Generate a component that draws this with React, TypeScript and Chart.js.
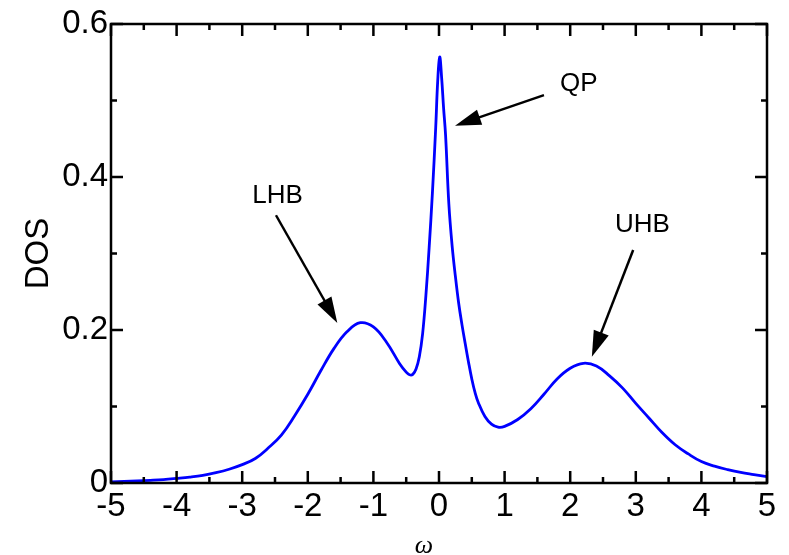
import React, { useEffect, useRef } from "react";
import { Chart, registerables } from "chart.js";

Chart.register(...registerables);

// ---- data ----
const omega = [
  -5.0, -4.8, -4.6, -4.4, -4.2, -4.0, -3.8, -3.6, -3.4, -3.2, -3.0, -2.8, -2.6, -2.4, -2.2, -2.0,
  -1.8, -1.6, -1.4, -1.2, -1.0, -0.8, -0.6, -0.5, -0.45, -0.4, -0.35, -0.3, -0.25, -0.2, -0.15,
  -0.1, -0.05, -0.02, 0.01, 0.04, 0.07, 0.1, 0.15, 0.2, 0.25, 0.3, 0.35, 0.4, 0.45, 0.5, 0.55, 0.6,
  0.7, 0.8, 0.9, 1.0, 1.2, 1.4, 1.6, 1.8, 2.0, 2.2, 2.4, 2.6, 2.8, 3.0, 3.2, 3.4, 3.6, 3.8,
  4.0, 4.2, 4.4, 4.6, 4.8, 5.0,
];
const dos = [
  0.0015, 0.002, 0.0027, 0.0035, 0.0045, 0.006, 0.0077, 0.01, 0.0135, 0.018, 0.024, 0.032, 0.046, 0.063, 0.088, 0.116,
  0.147, 0.176, 0.198, 0.2095, 0.204, 0.184, 0.156, 0.145, 0.1415, 0.142, 0.149, 0.165, 0.195, 0.245, 0.308,
  0.38, 0.465, 0.525, 0.557, 0.53, 0.49, 0.455, 0.365, 0.31, 0.27, 0.235, 0.207, 0.182, 0.158, 0.136, 0.118, 0.105,
  0.087, 0.077, 0.073, 0.074, 0.083, 0.097, 0.116, 0.136, 0.15, 0.1565, 0.153, 0.14, 0.124, 0.104, 0.085, 0.066, 0.05, 0.038,
  0.028, 0.022, 0.0175, 0.0138, 0.011, 0.0083,
];

const xRange = [-5, 5];
const yRange = [0, 0.6];
const xStep = 1;
const yStep = 0.2;

const xTitle = "ω";
const yTitle = "DOS";

// annotations: label, label position (data), arrow start (data), arrow tip (data)
const annLabels = ["LHB", "QP", "UHB"];
const annLabelX = [-2.46, 2.13, 3.1];
const annLabelY = [0.375, 0.522, 0.337];
const annFromX = [-2.485, 1.6, 2.96];
const annFromY = [0.35, 0.507, 0.3046];
const annToX = [-1.55, 0.244, 2.33];
const annToY = [0.209, 0.467, 0.165];

const SANS = "'Liberation Sans', Arial, Helvetica, sans-serif";

const framePlugin = {
  id: "frameTicks",
  afterDatasetsDraw(chart: any) {
    const { ctx, chartArea: a, scales } = chart;
    const xs = scales.x;
    const ys = scales.y;
    ctx.save();
    ctx.strokeStyle = "#000";
    ctx.lineWidth = 2.5;
    ctx.lineCap = "butt";

    const major = 12;
    const minor = 6;
    ctx.beginPath();
    const xv = xs.ticks.map((t: any) => t.value);
    xv.forEach((v: number, i: number) => {
      const px = xs.getPixelForValue(v);
      ctx.moveTo(px, a.bottom); ctx.lineTo(px, a.bottom - major);
      ctx.moveTo(px, a.top); ctx.lineTo(px, a.top + major);
      if (i < xv.length - 1) {
        const m = xs.getPixelForValue((v + xv[i + 1]) / 2);
        ctx.moveTo(m, a.bottom); ctx.lineTo(m, a.bottom - minor);
        ctx.moveTo(m, a.top); ctx.lineTo(m, a.top + minor);
      }
    });
    const yv = ys.ticks.map((t: any) => t.value);
    yv.forEach((v: number, i: number) => {
      const py = ys.getPixelForValue(v);
      ctx.moveTo(a.left, py); ctx.lineTo(a.left + major, py);
      ctx.moveTo(a.right, py); ctx.lineTo(a.right - major, py);
      if (i < yv.length - 1) {
        const m = ys.getPixelForValue((v + yv[i + 1]) / 2);
        ctx.moveTo(a.left, m); ctx.lineTo(a.left + minor, m);
        ctx.moveTo(a.right, m); ctx.lineTo(a.right - minor, m);
      }
    });
    ctx.stroke();

    ctx.strokeRect(a.left, a.top, a.right - a.left, a.bottom - a.top);

    // annotations
    ctx.fillStyle = "#000";
    ctx.font = `26px ${SANS}`;
    ctx.textAlign = "center";
    ctx.textBaseline = "middle";
    annLabels.forEach((lab, i) => {
      ctx.fillText(lab, xs.getPixelForValue(annLabelX[i]), ys.getPixelForValue(annLabelY[i]));
      const fx = xs.getPixelForValue(annFromX[i]);
      const fy = ys.getPixelForValue(annFromY[i]);
      const tx = xs.getPixelForValue(annToX[i]);
      const ty = ys.getPixelForValue(annToY[i]);
      const dx = tx - fx, dy = ty - fy;
      const len = Math.hypot(dx, dy);
      const ux = dx / len, uy = dy / len;
      const L = 26, W = 8;
      const bx = tx - ux * L, by = ty - uy * L;
      ctx.beginPath();
      ctx.lineWidth = 2.5;
      ctx.moveTo(fx, fy);
      ctx.lineTo(bx + ux * 2, by + uy * 2);
      ctx.stroke();
      ctx.beginPath();
      ctx.moveTo(tx, ty);
      ctx.lineTo(bx - uy * W, by + ux * W);
      ctx.lineTo(bx + uy * W, by - ux * W);
      ctx.closePath();
      ctx.fill();
    });

    // axis titles
    ctx.font = `33px ${SANS}`;
    ctx.save();
    ctx.translate(38.5, (a.top + a.bottom) / 2);
    ctx.rotate(-Math.PI / 2);
    ctx.fillText(yTitle, 0, 0);
    ctx.restore();

    ctx.font = `italic 26px 'Liberation Serif', 'Times New Roman', serif`;
    ctx.fillText(xTitle, a.left + (a.right - a.left) * 0.477, 546);

    ctx.restore();
  },
};

export default function App() {
  const ref = useRef<HTMLCanvasElement | null>(null);

  useEffect(() => {
    if (!ref.current) return;
    const points = omega.map((x, i) => ({ x, y: dos[i] }));
    const chart = new Chart(ref.current, {
      type: "scatter",
      data: {
        datasets: [
          {
            data: points,
            showLine: true,
            borderColor: "#0000ff",
            borderWidth: 2.8,
            pointRadius: 0,
            tension: 0.4,
            fill: false,
          } as any,
        ],
      },
      options: {
        responsive: false,
        animation: false,
        events: [],
        layout: { padding: { left: 0, right: 22, top: 24, bottom: 0 } },
        plugins: { legend: { display: false }, tooltip: { enabled: false } },
        scales: {
          x: {
            type: "linear",
            min: xRange[0],
            max: xRange[1],
            grid: { display: false, drawTicks: false },
            border: { display: false },
            ticks: {
              stepSize: xStep,
              color: "#000",
              padding: 4,
              maxRotation: 0,
              font: { family: SANS, size: 33 },
              callback: (v: any) => String(Math.round(Number(v))),
            },
            afterFit: (s: any) => { s.height = 72; },
          },
          y: {
            type: "linear",
            min: yRange[0],
            max: yRange[1],
            grid: { display: false, drawTicks: false },
            border: { display: false },
            ticks: {
              stepSize: yStep,
              color: "#000",
              padding: 3,
              font: { family: SANS, size: 33 },
              callback: (v: any) => String(Math.round(Number(v) * 10) / 10),
            },
            afterFit: (s: any) => { s.width = 111; },
          },
        },
      },
      plugins: [framePlugin],
    });
    return () => chart.destroy();
  }, []);

  return (
    <div style={{ position: "absolute", left: 0, top: 0, width: 789, height: 555, background: "#fff" }}>
      <canvas ref={ref} width={789} height={555} style={{ display: "block" }} />
    </div>
  );
}
